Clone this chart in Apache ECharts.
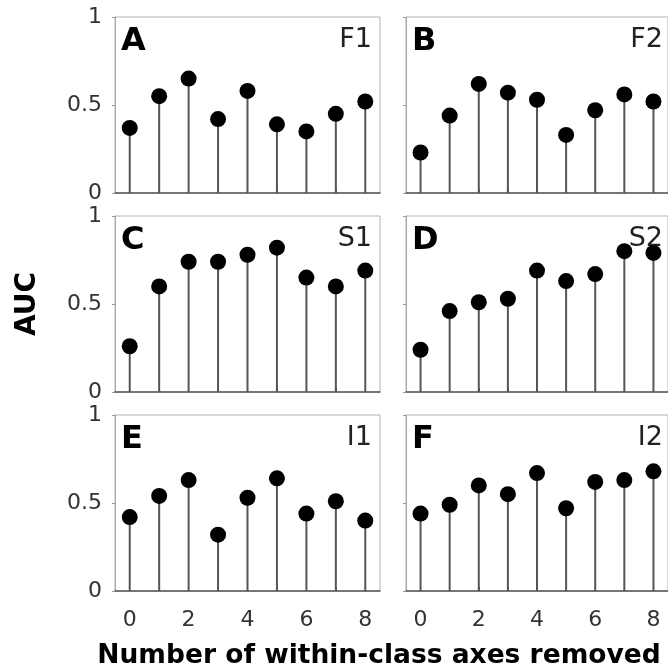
<!DOCTYPE html>
<html>
<head>
<meta charset="utf-8">
<script src="https://cdn.jsdelivr.net/npm/echarts@6/dist/echarts.min.js"></script>
<style>
html,body{margin:0;padding:0;background:#fff;}
#chart{width:668px;height:671px;}
</style>
</head>
<body>
<div id="chart"></div>
<script>
// ---- data ----
var categories = ['0','1','2','3','4','5','6','7','8'];
var panelLetters = ['A','B','C','D','E','F'];
var panelNames = ['F1','F2','S1','S2','I1','I2'];
var aucA = [0.37, 0.55, 0.65, 0.42, 0.58, 0.39, 0.35, 0.45, 0.52];
var aucB = [0.23, 0.44, 0.62, 0.57, 0.53, 0.33, 0.47, 0.56, 0.52];
var aucC = [0.26, 0.60, 0.74, 0.74, 0.78, 0.82, 0.65, 0.60, 0.69];
var aucD = [0.24, 0.46, 0.51, 0.53, 0.69, 0.63, 0.67, 0.80, 0.79];
var aucE = [0.42, 0.54, 0.63, 0.32, 0.53, 0.64, 0.44, 0.51, 0.40];
var aucF = [0.44, 0.49, 0.60, 0.55, 0.67, 0.47, 0.62, 0.63, 0.68];
var yTicks = [0, 0.5, 1];
var xTitle = 'Number of within-class axes removed';
var yTitle = 'AUC';

var panels = [aucA, aucB, aucC, aucD, aucE, aucF];

// ---- layout ----
var colLeft = [115, 406];
var rowTop = [17, 216, 415];
var W = 265, H = 176;
var FONT = '"DejaVu Sans", "Liberation Sans", Arial, sans-serif';

var grids = [], xAxes = [], yAxes = [], series = [], graphics = [];
panels.forEach(function (vals, i) {
  var col = i % 2, row = Math.floor(i / 2);
  var left = colLeft[col], top = rowTop[row];
  grids.push({left: left, top: top, width: W, height: H, show: true,
    borderColor: '#b4b4b4', borderWidth: 1, backgroundColor: 'transparent', containLabel: false});
  xAxes.push({
    type: 'category', gridIndex: i, data: categories, boundaryGap: true,
    axisLine: {show: true, lineStyle: {color: '#555', width: 1.5}},
    axisTick: {show: true, inside: true, alignWithLabel: true, interval: 0, length: 4, lineStyle: {color: '#555'}},
    axisLabel: {show: row === 2, interval: 1, margin: 18, fontSize: 22, color: '#333', fontFamily: FONT},
    splitLine: {show: false}
  });
  yAxes.push({
    type: 'value', gridIndex: i, min: 0, max: 1, interval: 0.5,
    axisLine: {show: true, lineStyle: {color: '#a8a8a8', width: 1}},
    axisTick: {show: true, inside: false, length: 3, lineStyle: {color: '#999'}},
    axisLabel: {show: col === 0, margin: 13, fontSize: 22, color: '#333', fontFamily: FONT,
      formatter: function (v) { return yTicks.indexOf(v) >= 0 ? String(v) : ''; }},
    splitLine: {show: false}
  });
  series.push({
    type: 'bar', xAxisIndex: i, yAxisIndex: i, data: vals, barWidth: 2,
    itemStyle: {color: '#555'}, silent: true, z: 2, animation: false
  });
  series.push({
    type: 'scatter', xAxisIndex: i, yAxisIndex: i, data: vals, symbol: 'circle', symbolSize: 16,
    itemStyle: {color: '#000', opacity: 1}, silent: true, z: 4, animation: false
  });
  graphics.push({
    type: 'text', left: left + 6, top: top + 9, z: 3,
    style: {text: panelLetters[i], font: 'bold 32px ' + FONT, fill: '#000'}
  });
  graphics.push({
    type: 'text', right: 668 - (left + W - 8), top: top + 9, z: 3,
    style: {text: panelNames[i], font: '27px ' + FONT, fill: '#222'}
  });
});

graphics.push({
  type: 'text', x: 28, y: 304, rotation: Math.PI / 2,
  style: {text: yTitle, font: 'bold 28px ' + FONT, fill: '#000', textAlign: 'center', textVerticalAlign: 'middle'}
});
graphics.push({
  type: 'text', x: 379, y: 656,
  style: {text: xTitle, font: 'bold 26.5px ' + FONT, fill: '#000', textAlign: 'center', textVerticalAlign: 'middle'}
});

var chart = echarts.init(document.getElementById('chart'), null, {renderer: 'canvas'});
chart.setOption({
  animation: false,
  backgroundColor: '#fff',
  grid: grids,
  xAxis: xAxes,
  yAxis: yAxes,
  series: series,
  graphic: graphics
});
</script>
</body>
</html>
